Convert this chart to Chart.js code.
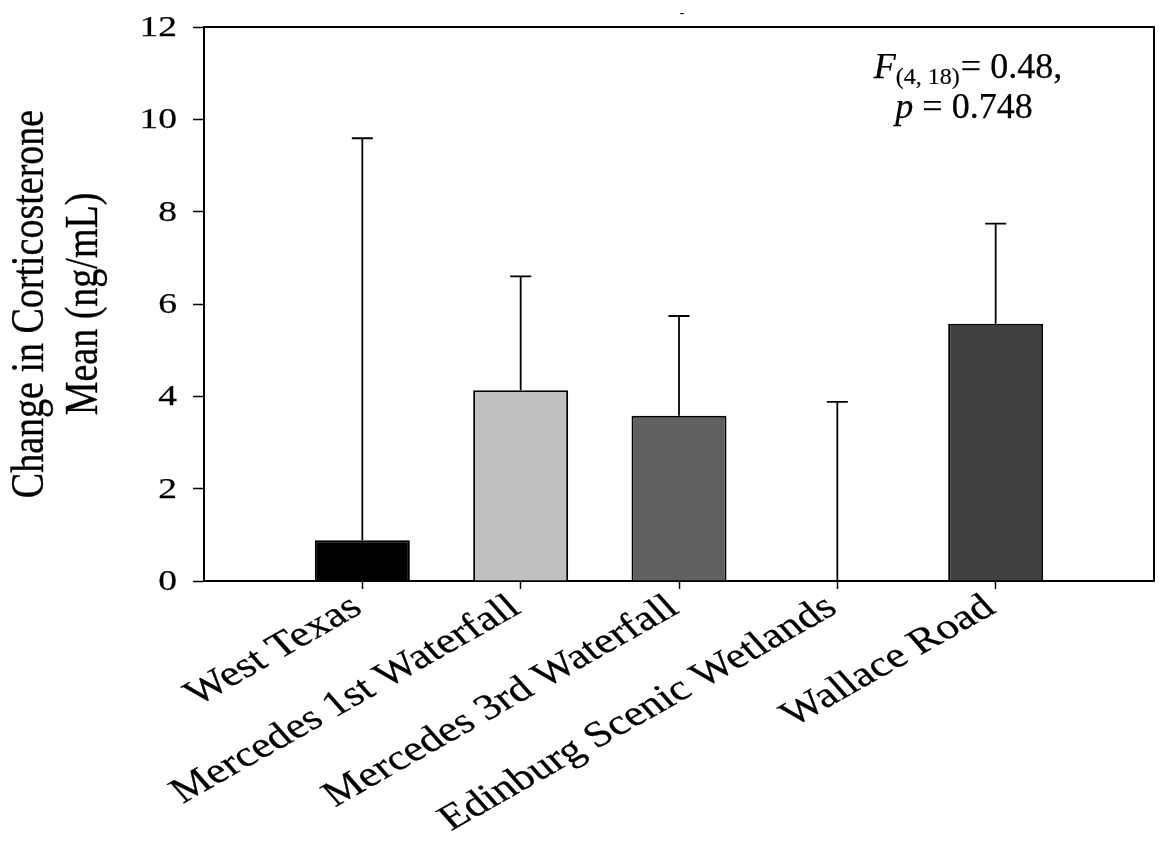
<!DOCTYPE html>
<html>
<head>
<meta charset="utf-8">
<script src="https://cdn.jsdelivr.net/npm/chart.js@4.4.1/dist/chart.umd.min.js"></script>
<style>
  html, body { margin: 0; padding: 0; background: #fff; }
  #wrap { width: 1160px; height: 846px; position: relative; }
</style>
</head>
<body>
<div id="wrap"><canvas id="chartCort"></canvas></div>
<script>
// Change in corticosterone by site: group means with upper standard error
const sites = ["West Texas", "Mercedes 1st Waterfall", "Mercedes 3rd Waterfall", "Edinburg Scenic Wetlands", "Wallace Road"];
const means = [0.88, 4.13, 3.58, 0, 5.57];
const stdErr = [8.71, 2.47, 2.16, 3.88, 2.17];
const barColors = ["#000000", "#c0c0c0", "#606060", "#808080", "#404040"];
const yTicks = [0, 2, 4, 6, 8, 10, 12];
const yTitle = ["Change in Corticosterone", "Mean (ng/mL)"];
const anovaF = { stat: "F", df: "(4, 18)", value: "= 0.48," };
const anovaP = { stat: "p", value: " = 0.748" };

const SERIF = '"Liberation Serif", "Times New Roman", serif';

// figure text is drawn a bit wide, so allow a horizontal stretch
function drawText(ctx, str, x, y, o) {
  ctx.save();
  ctx.translate(x, y);
  ctx.scale(o.sx || 1, 1);
  ctx.rotate(o.angle || 0);
  ctx.font = o.font;
  ctx.textAlign = o.align || "left";
  ctx.textBaseline = o.baseline || "alphabetic";
  ctx.fillStyle = "#000";
  ctx.fillText(str, 0, 0);
  if (o.heavy) {
    ctx.strokeStyle = "#000";
    ctx.lineWidth = o.heavy;
    ctx.strokeText(str, 0, 0);
  }
  ctx.restore();
}

/* -------- error bars (upper only, with cap) -------- */
const errorBars = {
  id: "errorBars",
  afterDatasetsDraw(chart) {
    const { ctx, scales: { y } } = chart;
    const meta = chart.getDatasetMeta(0);
    ctx.save();
    ctx.strokeStyle = "#000";
    ctx.lineWidth = 1.8;
    meta.data.forEach((bar, i) => {
      const base = y.getPixelForValue(means[i]);
      const top = y.getPixelForValue(means[i] + stdErr[i]);
      ctx.beginPath();
      ctx.moveTo(bar.x, base);
      ctx.lineTo(bar.x, top);
      ctx.moveTo(bar.x - 10.5, top);
      ctx.lineTo(bar.x + 10.5, top);
      ctx.stroke();
    });
    ctx.restore();
  }
};

/* -------- frame, labels, titles and stats -------- */
const decorations = {
  id: "decorations",
  afterDraw(chart) {
    const { ctx, chartArea: a, scales: { x, y } } = chart;

    // top and right edges of the plot box
    ctx.save();
    ctx.strokeStyle = "#000";
    ctx.lineWidth = 2;
    ctx.beginPath();
    ctx.moveTo(a.left, a.top);
    ctx.lineTo(a.right, a.top);
    ctx.lineTo(a.right, a.bottom);
    ctx.stroke();
    ctx.restore();

    // y tick labels
    yTicks.forEach(v => {
      drawText(ctx, String(v), 177, y.getPixelForValue(v) + 1, {
        font: "30px " + SERIF, sx: 1.25, align: "right", baseline: "middle", heavy: 0.25
      });
    });

    // x category labels, rotated
    const sx = 1.25;
    const angle = -Math.atan(Math.tan(29.5 * Math.PI / 180) * sx);
    x.ticks.forEach((t, i) => {
      drawText(ctx, sites[t.value - 1], x.getPixelForTick(i) - 5, 604, {
        font: "36px " + SERIF, sx, angle, align: "right", baseline: "middle", heavy: 0.25
      });
    });

    // y axis title, two lines
    const yMid = (a.top + a.bottom) / 2;
    [43, 97].forEach((bx, i) => {
      drawText(ctx, yTitle[i], bx, yMid, {
        font: "38px " + SERIF, sx: 1.2, angle: -Math.PI / 2, align: "center", heavy: 0.3
      });
    });

    // ANOVA result, centred block in upper right
    const cx = 964;
    const fBig = "36px " + SERIF, fIt = "italic 36px " + SERIF, fSub = "24px " + SERIF;
    ctx.save();
    ctx.font = fIt; const w1 = ctx.measureText(anovaF.stat).width;
    ctx.font = fSub; const w2 = ctx.measureText(anovaF.df).width;
    ctx.font = fBig; const w3 = ctx.measureText(anovaF.value).width;
    ctx.font = fIt; const p1 = ctx.measureText(anovaP.stat).width;
    ctx.font = fBig; const p2 = ctx.measureText(anovaP.value).width;
    ctx.restore();

    let lx = cx - (w1 + w2 + 1 + w3) / 2 + 4;
    drawText(ctx, anovaF.stat, lx, 78, { font: fIt, heavy: 0.25 });
    drawText(ctx, anovaF.df, lx + w1, 84, { font: fSub, heavy: 0.2 });
    drawText(ctx, anovaF.value, lx + w1 + w2 + 1, 78, { font: fBig, heavy: 0.25 });

    lx = cx - (p1 + p2) / 2;
    drawText(ctx, anovaP.stat, lx, 118, { font: fIt, heavy: 0.25 });
    drawText(ctx, anovaP.value, lx + p1, 118, { font: fBig, heavy: 0.25 });

    // empty chart title leaves a stray dash
    drawText(ctx, "-", 682, 17, { font: "14px " + SERIF, align: "center" });
  }
};

const ctx = document.getElementById("chartCort").getContext("2d");

new Chart(ctx, {
  type: "bar",
  data: {
    datasets: [{
      data: sites.map((s, i) => ({ x: i + 1, y: means[i] })),
      backgroundColor: barColors,
      borderColor: "#000",
      borderWidth: 2,
      barPercentage: 0.6,
      categoryPercentage: 1.0
    }]
  },
  options: {
    responsive: true,
    maintainAspectRatio: false,
    animation: false,
    layout: { padding: { top: 27, right: 6, left: 0, bottom: 0 } },
    plugins: {
      legend: { display: false },
      tooltip: { enabled: false },
      title: { display: false }
    },
    scales: {
      x: {
        type: "linear",
        min: 0,
        max: 6,
        offset: false,
        ticks: { display: false, stepSize: 1 },
        afterBuildTicks: axis => {
          axis.ticks = axis.ticks.filter(t => t.value >= 1 && t.value <= 5);
        },
        afterFit: axis => { axis.height = 265; },
        grid: {
          offset: false,
          drawOnChartArea: false,
          tickLength: 8,
          tickColor: "#000",
          tickWidth: 1.5
        },
        border: { color: "#000", width: 2 }
      },
      y: {
        min: 0,
        max: 12,
        ticks: { display: false, stepSize: 2 },
        afterFit: axis => { axis.width = 204; },
        grid: {
          drawOnChartArea: false,
          tickLength: 11,
          tickColor: "#000",
          tickWidth: 1.5
        },
        border: { color: "#000", width: 2 }
      }
    }
  },
  plugins: [errorBars, decorations]
});
</script>
</body>
</html>
